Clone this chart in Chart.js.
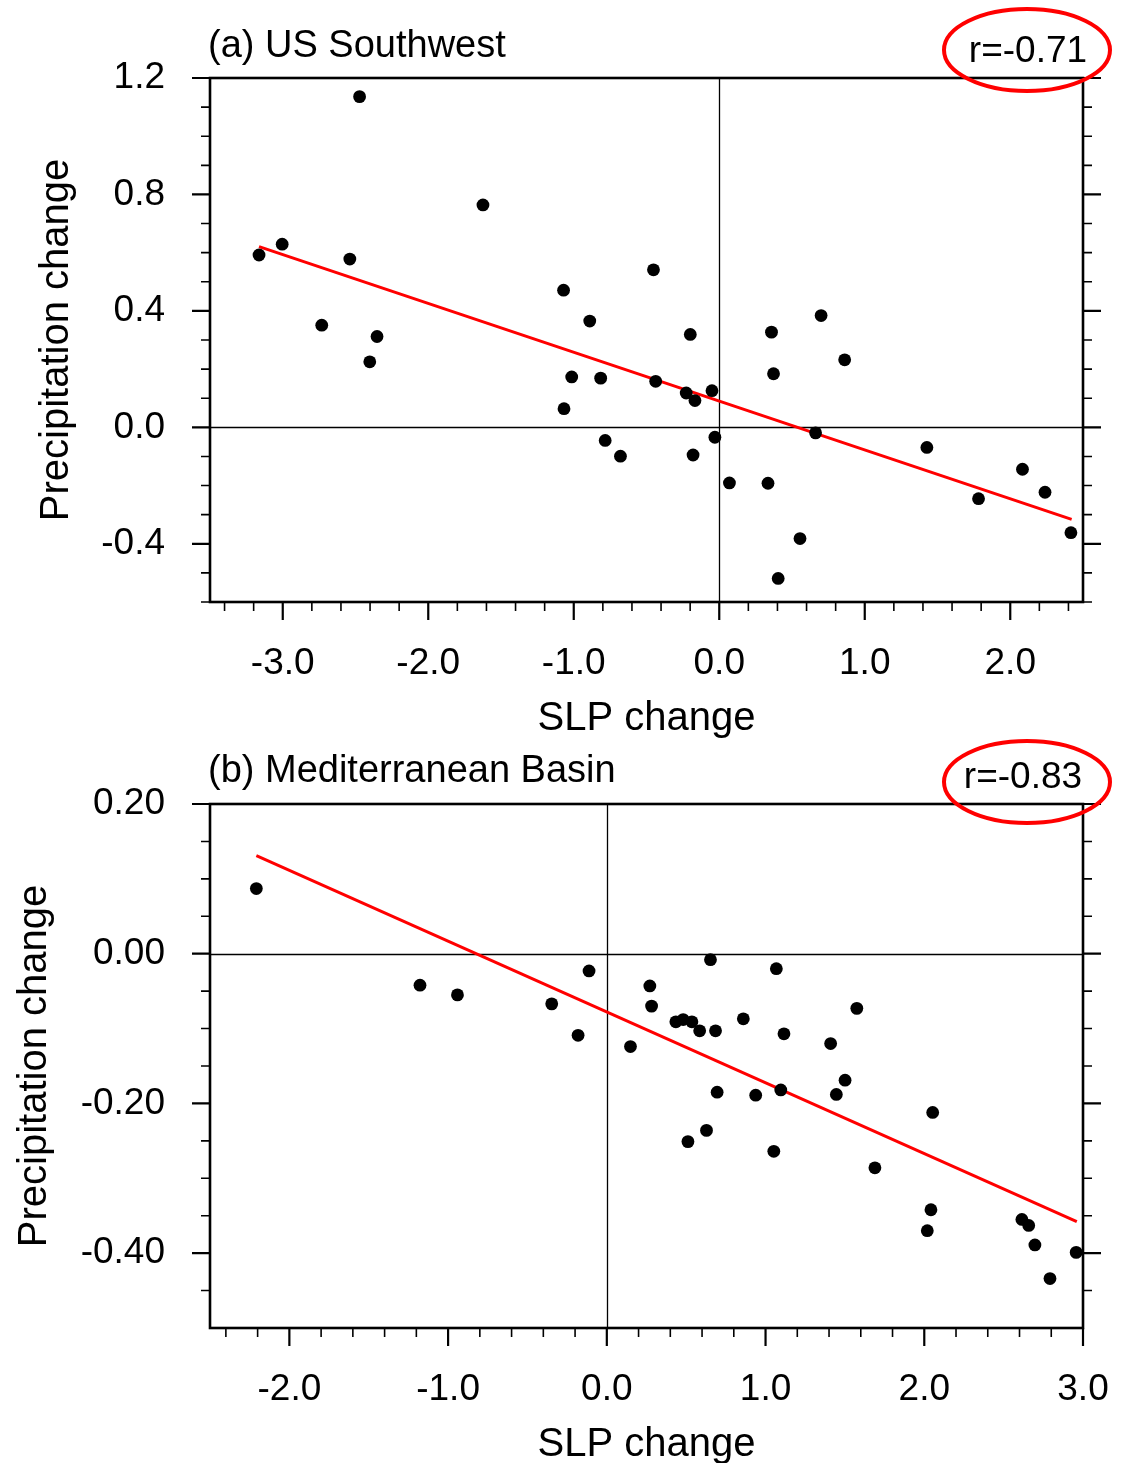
<!DOCTYPE html>
<html>
<head>
<meta charset="utf-8">
<script src="https://cdn.jsdelivr.net/npm/chart.js@4.4.0/dist/chart.umd.min.js"></script>
<style>
  body { margin: 0; background: #fff; width: 1131px; height: 1463px; position: relative; overflow: hidden; }
  canvas { position: absolute; left: 0; }
  #chartA { top: 0; }
  #chartB { top: 726px; }
</style>
</head>
<body>
<canvas id="chartA" width="1131" height="745"></canvas>
<canvas id="chartB" width="1131" height="737"></canvas>
<script>
// (a) US Southwest
const slpA = [-3.163, -3.004, -2.732, -2.539, -2.472, -2.402, -2.352, -1.624, -1.070, -1.067, -1.014, -0.890, -0.815,
  -0.784, -0.679, -0.452, -0.437, -0.227, -0.199, -0.167, -0.180, -0.050, -0.030, 0.070, 0.335, 0.359, 0.373,
  0.405, 0.555, 0.662, 0.700, 0.862, 1.427, 1.782, 2.084, 2.239, 2.417]
const precA = [0.592, 0.629, 0.351, 0.578, 1.136, 0.225, 0.312, 0.764, 0.471, 0.064, 0.173, 0.365, 0.169,
  -0.045, -0.099, 0.541, 0.158, 0.118, 0.319, 0.092, -0.095, 0.126, -0.034, -0.191, -0.192, 0.327, 0.184,
  -0.519, -0.382, -0.019, 0.384, 0.232, -0.069, -0.245, -0.144, -0.223, -0.362]
const fitXA = [-3.163, 2.422]
const fitYA = [0.621, -0.316]
const xTicksA = [-3, -2, -1, 0, 1, 2]
const xLabelsA = ['-3.0', '-2.0', '-1.0', '0.0', '1.0', '2.0']
const yTicksA = [-0.4, 0, 0.4, 0.8, 1.2]
const yLabelsA = ['-0.4', '0.0', '0.4', '0.8', '1.2']

// (b) Mediterranean Basin
const slpB = [-2.208, -1.177, -0.941, -0.347, -0.112, -0.181, 0.149, 0.271, 0.282, 0.435, 0.481, 0.536, 0.585,
  0.653, 0.685, 0.860, 1.068, 1.116, 1.410, 1.575, 1.501, 0.695, 0.938, 1.096, 1.446, 0.511, 0.628, 1.052,
  1.689, 2.053, 2.042, 2.019, 2.615, 2.658, 2.697, 2.792, 2.957]
const precB = [0.087, -0.042, -0.055, -0.067, -0.023, -0.109, -0.124, -0.043, -0.070, -0.091, -0.088, -0.091, -0.103,
  -0.008, -0.103, -0.087, -0.020, -0.107, -0.120, -0.073, -0.169, -0.185, -0.189, -0.182, -0.188, -0.251, -0.236, -0.264,
  -0.286, -0.212, -0.342, -0.370, -0.355, -0.363, -0.389, -0.434, -0.399]
const fitXB = [-2.208, 2.961]
const fitYB = [0.131, -0.358]
const xTicksB = [-2, -1, 0, 1, 2, 3]
const xLabelsB = ['-2.0', '-1.0', '0.0', '1.0', '2.0', '3.0']
const yTicksB = [-0.4, -0.2, 0, 0.2]
const yLabelsB = ['-0.40', '-0.20', '0.00', '0.20']

const FONT = '"Liberation Sans", Arial, Helvetica, sans-serif'
Chart.defaults.font.family = FONT
Chart.defaults.color = '#000'

const near = (v, list) => list.some(t => Math.abs(t - v) < 1e-6)

// multiples of step that fall inside the scale range
function minorValues(scale, step) {
  const out = []
  const k0 = Math.ceil(scale.min / step - 1e-6)
  const k1 = Math.floor(scale.max / step + 1e-6)
  for (let k = k0; k <= k1; k++) out.push(k * step)
  return out
}

// border, outward ticks (major + minor), zero lines, labels and the red ellipse
const axisDeco = {
  id: 'axisDeco',
  beforeDatasetsDraw(chart, args, o) {
    const { ctx, chartArea: a, scales: { x, y } } = chart
    const x0 = Math.round(x.getPixelForValue(0)) + 0.5
    const y0 = Math.round(y.getPixelForValue(0)) + 0.5
    ctx.save()
    ctx.strokeStyle = '#000'
    ctx.lineWidth = 1.3
    ctx.beginPath()
    ctx.moveTo(a.left, y0); ctx.lineTo(a.right, y0)
    ctx.moveTo(x0, a.top); ctx.lineTo(x0, a.bottom)
    ctx.stroke()
    ctx.restore()
  },
  afterDraw(chart, args, o) {
    const { ctx, chartArea: a, scales: { x, y } } = chart
    ctx.save()
    ctx.strokeStyle = '#000'
    // ticks
    minorValues(x, o.xMinor).forEach(v => {
      const major = near(v, o.xMajor)
      const px = x.getPixelForValue(v)
      ctx.lineWidth = major ? 2.2 : 1.6
      ctx.beginPath()
      ctx.moveTo(px, a.bottom); ctx.lineTo(px, a.bottom + (major ? 18 : 9))
      ctx.stroke()
    })
    minorValues(y, o.yMinor).forEach(v => {
      if (!o.yEdge && Math.abs(v - y.min) < 1e-6) return
      const major = near(v, o.yMajor)
      const py = y.getPixelForValue(v)
      const len = major ? 18 : 9
      ctx.lineWidth = major ? 2.2 : 1.6
      ctx.beginPath()
      ctx.moveTo(a.left - len, py); ctx.lineTo(a.left, py)
      ctx.moveTo(a.right, py); ctx.lineTo(a.right + len, py)
      ctx.stroke()
    })
    // frame
    ctx.lineWidth = 2.6
    ctx.strokeRect(a.left, a.top, a.right - a.left, a.bottom - a.top)

    // panel title
    ctx.fillStyle = '#000'
    ctx.textBaseline = 'alphabetic'
    ctx.textAlign = 'left'
    ctx.font = '38px ' + FONT
    ctx.fillText(o.title, 208, o.titleY)

    // axis titles
    ctx.font = '40px ' + FONT
    ctx.textAlign = 'center'
    ctx.fillText('SLP change', (a.left + a.right) / 2, a.bottom + 128)
    ctx.save()
    ctx.translate(o.yTitleX, (a.top + a.bottom) / 2)
    ctx.rotate(-Math.PI / 2)
    ctx.fillText('Precipitation change', 0, 0)
    ctx.restore()

    // correlation with red ellipse
    ctx.font = '37px ' + FONT
    ctx.fillText(o.r, o.rX, o.rY)
    ctx.strokeStyle = '#ff0000'
    ctx.lineWidth = 4
    ctx.beginPath()
    ctx.ellipse(o.ex, o.ey, 83, 41, 0, 0, Math.PI * 2)
    ctx.stroke()
    ctx.restore()
  }
}

function makeChart(id, xs, ys, fx, fy, xr, yr, xTicks, xLabels, yTicks, yLabels, axisH, deco) {
  return new Chart(document.getElementById(id), {
    type: 'scatter',
    data: {
      datasets: [
        {
          data: xs.map((v, i) => ({ x: v, y: ys[i] })),
          backgroundColor: '#000',
          borderWidth: 0,
          pointRadius: 6.4
        },
        {
          data: fx.map((v, i) => ({ x: v, y: fy[i] })),
          showLine: true,
          borderColor: '#ff0000',
          borderWidth: 3,
          pointRadius: 0
        }
      ]
    },
    options: {
      responsive: false,
      animation: false,
      devicePixelRatio: 1,
      layout: { padding: { top: 78, right: 48, left: 0, bottom: 0 } },
      plugins: { legend: { display: false }, tooltip: { enabled: false }, axisDeco: deco },
      scales: {
        x: {
          type: 'linear', min: xr[0], max: xr[1],
          afterBuildTicks: s => { s.ticks = xTicks.map(v => ({ value: v })) },
          afterFit: s => { s.height = axisH; s.paddingLeft = 0; s.paddingRight = 0 },
          grid: { display: false, drawTicks: false, tickLength: 0 },
          border: { display: false },
          ticks: {
            callback: (v, i) => xLabels[i],
            font: { size: 37 }, color: '#000', padding: 40, maxRotation: 0, autoSkip: false
          }
        },
        y: {
          type: 'linear', min: yr[0], max: yr[1],
          afterBuildTicks: s => { s.ticks = yTicks.map(v => ({ value: v })) },
          afterFit: s => { s.width = 210; s.paddingTop = 0; s.paddingBottom = 0 },
          grid: { display: false, drawTicks: false, tickLength: 0 },
          border: { display: false },
          ticks: {
            callback: (v, i) => yLabels[i],
            font: { size: 37 }, color: '#000', padding: 45, autoSkip: false
          }
        }
      }
    },
    plugins: [axisDeco]
  })
}

makeChart('chartA', slpA, precA, fitXA, fitYA, [-3.5, 2.5], [-0.6, 1.2], xTicksA, xLabelsA, yTicksA, yLabelsA, 143, {
  title: '(a) US Southwest', titleY: 57, yTitleX: 68,
  r: 'r=-0.71', rX: 1028, rY: 62, ex: 1027, ey: 50,
  xMinor: 0.2, xMajor: xTicksA, yMinor: 0.1, yMajor: yTicksA, yEdge: true
})
makeChart('chartB', slpB, precB, fitXB, fitYB, [-2.5, 3.0], [-0.5, 0.2], xTicksB, xLabelsB, yTicksB, yLabelsB, 135, {
  title: '(b) Mediterranean Basin', titleY: 56, yTitleX: 46,
  r: 'r=-0.83', rX: 1023, rY: 62, ex: 1027, ey: 56,
  xMinor: 0.2, xMajor: xTicksB, yMinor: 0.05, yMajor: yTicksB, yEdge: false
})
</script>
</body>
</html>
